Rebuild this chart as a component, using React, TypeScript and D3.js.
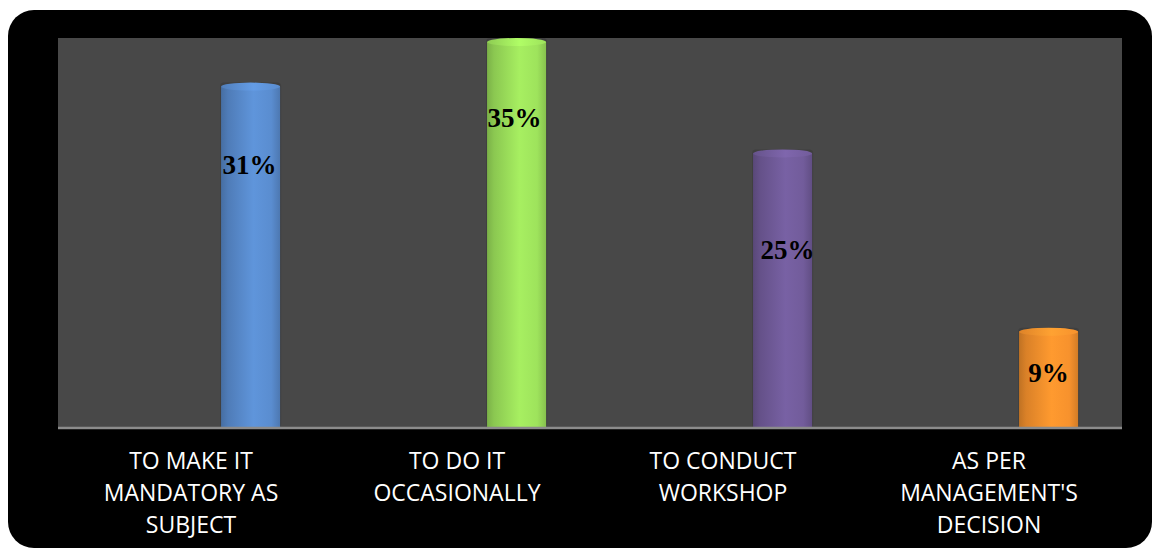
import React from "react";
import * as d3 from "d3";

const categories = [
  "TO MAKE IT MANDATORY AS SUBJECT",
  "TO DO IT OCCASIONALLY",
  "TO CONDUCT WORKSHOP",
  "AS PER MANAGEMENT'S DECISION",
];
const categoryLines = [
  ["TO MAKE IT", "MANDATORY AS", "SUBJECT"],
  ["TO DO IT", "OCCASIONALLY"],
  ["TO CONDUCT", "WORKSHOP"],
  ["AS PER", "MANAGEMENT'S", "DECISION"],
];
const values = [31, 35, 25, 9];
const valueLabels = ["31%", "35%", "25%", "9%"];
const barColors = ["#5a8dd0", "#9ee35c", "#725c9b", "#f7922d"];

const W = 1152;
const H = 550;
const plot = { left: 58, right: 1122, top: 38, bottom: 428 };
const labelOffsets = [82, 80, 101, 45];
const labelDx = [-1, -2, 5, 0];

export default function App() {
  const x = d3
    .scaleBand<string>()
    .domain(categories)
    .range([plot.left, plot.right])
    .paddingInner(0)
    .paddingOuter(0);
  const y = d3.scaleLinear().domain([0, 35]).range([plot.bottom, plot.top]);
  const bw = x.bandwidth();
  const barW = bw * 0.222;
  const barOff = bw * 0.613;

  return (
    <svg
      width={W}
      height={H}
      style={{ position: "absolute", left: 0, top: 0, background: "#ffffff" }}
    >
      <defs>
        {barColors.map((c, i) => {
          const col = d3.color(c)!;
          return (
            <React.Fragment key={i}>
              <linearGradient id={`g${i}`} x1="0" x2="1" y1="0" y2="0">
                <stop offset="0%" stopColor={col.darker(0.7).formatHex()} />
                <stop offset="12%" stopColor={col.darker(0.35).formatHex()} />
                <stop offset="55%" stopColor={col.brighter(0.15).formatHex()} />
                <stop offset="85%" stopColor={col.formatHex()} />
                <stop offset="100%" stopColor={col.darker(0.45).formatHex()} />
              </linearGradient>
              <linearGradient id={`c${i}`} x1="0" x2="1" y1="0" y2="0">
                <stop offset="0%" stopColor={col.darker(0.3).formatHex()} />
                <stop offset="55%" stopColor={col.brighter(0.3).formatHex()} />
                <stop offset="100%" stopColor={col.formatHex()} />
              </linearGradient>
            </React.Fragment>
          );
        })}
      </defs>
      <rect x={8} y={10} width={1144} height={538} rx={26} ry={26} fill="#000" />
      <rect
        x={plot.left}
        y={plot.top}
        width={plot.right - plot.left}
        height={plot.bottom - plot.top}
        fill="#484848"
      />
      {categories.map((c, i) => {
        const x0 = (x(c) as number) + barOff;
        const yt = y(values[i]);
        const ry = 4;
        return (
          <g key={c}>
            <rect
              x={x0 - 1}
              y={yt}
              width={barW + 2}
              height={plot.bottom - yt}
              rx={4}
              fill="#3a3a3a"
              opacity={0.6}
            />
            <rect
              x={x0}
              y={yt + ry}
              width={barW}
              height={plot.bottom - yt - ry}
              fill={`url(#g${i})`}
            />
            <ellipse
              cx={x0 + barW / 2}
              cy={yt + ry}
              rx={barW / 2}
              ry={ry}
              fill={`url(#c${i})`}
            />
            <text
              x={x0 + barW / 2 + labelDx[i]}
              y={yt + labelOffsets[i] + 9}
              textAnchor="middle"
              fontFamily="'Liberation Serif', 'DejaVu Serif', serif"
              fontWeight="bold"
              fontSize={27}
              fill="#000"
            >
              {valueLabels[i]}
            </text>
          </g>
        );
      })}
      <line
        x1={plot.left}
        x2={plot.right}
        y1={plot.bottom}
        y2={plot.bottom}
        stroke="#8c8c8c"
        strokeWidth={2.5}
      />
      {categories.map((c, i) => {
        const cx = (x(c) as number) + bw / 2;
        return (
          <text
            key={c}
            x={cx}
            textAnchor="middle"
            fontFamily="'Open Sans', sans-serif"
            fontSize={23}
            fill="#fff"
          >
            {categoryLines[i].map((l, j) => (
              <tspan key={j} x={cx} y={469 + j * 32}>
                {l}
              </tspan>
            ))}
          </text>
        );
      })}
    </svg>
  );
}
